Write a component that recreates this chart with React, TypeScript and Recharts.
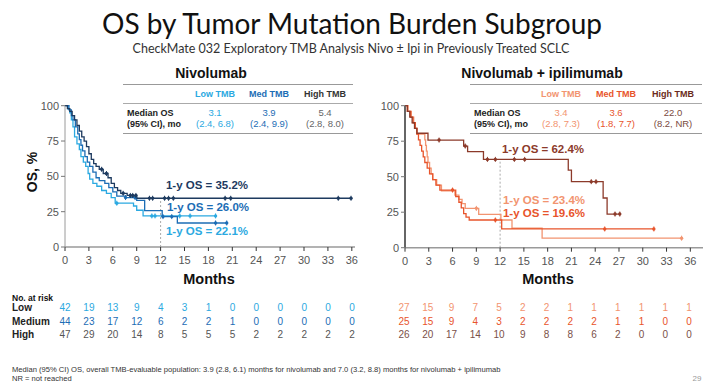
import React from "react"
import { ComposedChart, Line, Scatter, XAxis, YAxis, ReferenceLine } from "recharts"

const MONTH_TICKS = [0, 3, 6, 9, 12, 15, 18, 21, 24, 27, 30, 33, 36]
const PCT_TICKS = [0, 25, 50, 75, 100]

// Nivolumab arm: KM step points (months, % surviving)
const nivoLowMonths = [0, 0.4, 0.6, 0.8, 1.0, 1.2, 1.5, 1.8, 2.0, 2.3, 2.6, 2.9, 3.1, 3.5, 4.0, 4.6, 5.2, 5.8, 6.3, 8.6, 9.0, 9.8, 18.9]
const nivoLowOS = [100, 97.6, 95, 90, 85, 78, 73, 69, 64, 60, 57, 52, 48, 45, 43, 40, 38, 35, 31, 29, 26, 22, 22]
const nivoLowCensor = [6.5, 10.9, 11.3, 14.4, 15.7, 18.9]

const nivoMedMonths = [0, 0.5, 0.8, 1.0, 1.3, 1.6, 1.8, 2.0, 2.2, 2.5, 2.8, 3.1, 3.5, 3.9, 4.3, 5.0, 5.5, 6.0, 6.5, 7.6, 9.0, 10.0, 12.2, 14.1, 20.3]
const nivoMedOS = [100, 97, 93, 90, 85, 80, 76, 72, 68, 64, 60, 57, 53, 49, 47, 45, 42, 39, 36, 35, 33, 25.7, 21.5, 17, 17]
const nivoMedCensor = [7.6, 8.8, 12.3, 13.4, 18.9, 20.3]

const nivoHighMonths = [0, 0.3, 0.6, 0.9, 1.2, 1.5, 1.8, 2.1, 2.4, 2.7, 3.0, 3.3, 3.6, 3.9, 4.3, 4.8, 5.4, 5.8, 6.2, 6.6, 7.0, 7.8, 9.0, 35.9]
const nivoHighOS = [100, 98, 96, 93, 90, 86, 82, 78, 75, 71, 66, 62, 59, 57, 55, 52, 49, 45, 42, 40, 38, 36.5, 34.5, 34.5]
const nivoHighCensor = [4.6, 5.2, 7.3, 8.2, 8.5, 8.9, 10.6, 11.0, 12.5, 13.0, 13.6, 20.1, 20.8, 34.3, 35.9]

// Nivolumab + ipilimumab arm
const comboLowMonths = [0, 0.4, 0.8, 1.1, 1.3, 1.5, 2.5, 2.6, 2.7, 2.8, 2.9, 3.1, 3.3, 3.5, 4.0, 4.6, 6.3, 6.8, 7.2, 7.6, 9.3, 12.1, 13.5, 17.3, 34.9]
const comboLowOS = [100, 96, 92, 88, 84, 80, 76, 72, 68, 64, 60, 56, 52, 48, 44, 40, 37, 34, 31, 27.7, 23.4, 19.5, 13.7, 6.7, 6.7]
const comboLowCensor = [9.0, 34.9]

const comboMedMonths = [0, 0.3, 0.7, 1.0, 1.3, 1.5, 1.7, 1.9, 2.1, 2.3, 2.5, 2.8, 3.1, 3.5, 3.9, 4.4, 6.4, 6.8, 7.1, 7.4, 7.7, 8.1, 12.2, 31.4]
const comboMedOS = [100, 96, 92, 88, 84, 80, 76, 72, 68, 64, 60, 56, 52, 48, 44, 40.6, 36, 32, 28, 24, 21.5, 19.5, 13.2, 13.2]
const comboMedCensor = [6.0, 11.4, 25.2, 31.4]

const comboHighMonths = [0, 0.3, 0.6, 0.9, 1.2, 1.5, 2.9, 7.4, 7.9, 9.9, 20.6, 21.0, 25.0, 25.5, 27.1]
const comboHighOS = [100, 96, 92, 88, 84, 80.6, 75.8, 71.6, 67.6, 62.2, 54.7, 46.5, 35, 23.7, 23.7]
const comboHighCensor = [4.3, 7.6, 10.4, 11.4, 13.8, 15.1, 23.5, 24.1, 26.5, 27.1]

// numbers at risk, every 3 months
const RISK_LABELS = ["Low", "Medium", "High"]
const nivoRisk = [
  [42, 19, 13, 9, 4, 3, 1, 0, 0, 0, 0, 0, 0],
  [44, 23, 17, 12, 6, 2, 2, 1, 0, 0, 0, 0, 0],
  [47, 29, 20, 14, 8, 5, 5, 5, 2, 2, 2, 2, 2],
]
const comboRisk = [
  [27, 15, 9, 7, 5, 2, 2, 1, 1, 1, 1, 1, 1],
  [25, 15, 9, 4, 3, 2, 2, 2, 2, 1, 1, 0, 0],
  [26, 20, 17, 14, 10, 9, 8, 8, 6, 2, 0, 0, 0],
]

const TMB_HEADERS = ["Low TMB", "Med TMB", "High TMB"]
const nivoMedian = ["3.1", "3.9", "5.4"]
const nivoCI = ["(2.4, 6.8)", "(2.4, 9.9)", "(2.8, 8.0)"]
const comboMedian = ["3.4", "3.6", "22.0"]
const comboCI = ["(2.8, 7.3)", "(1.8, 7.7)", "(8.2, NR)"]

const BLUE_LOW = "#2ba9e1"
const BLUE_MED = "#1c6db5"
const BLUE_HIGH = "#1d3a5f"
const OR_LOW = "#f29470"
const OR_MED = "#e8542b"
const OR_HIGH = "#8c3a2a"

const ARIAL = "'Liberation Sans', Arial, sans-serif"
const TITLE_FONT = "Lato, 'Open Sans', sans-serif"

type Pt = { m: number; p: number }

const toCurve = (ms: number[], ps: number[]): Pt[] => ms.map((m, i) => ({ m, p: ps[i] }))

const survAt = (curve: Pt[], t: number) => {
  let v = curve[0].p
  for (const pt of curve) if (pt.m <= t) v = pt.p
  return v
}

const censorPts = (curve: Pt[], times: number[]) => times.map((t) => ({ m: t, p: survAt(curve, t) }))

const censorShape = (color: string) => (props: any) => {
  const { cx, cy } = props
  return (
    <g>
      <line x1={cx} y1={cy - 2.5} x2={cx} y2={cy + 2.5} stroke={color} strokeWidth={1} />
      <circle cx={cx} cy={cy} r={1.7} fill={color} />
    </g>
  )
}

type Series = { curve: Pt[]; censor: number[]; color: string }

function Txt({ x, y, size, color = "#222", weight = 400, anchor = "start", family = ARIAL, children }: any) {
  const tx = anchor === "middle" ? "-50%" : anchor === "end" ? "-100%" : "0"
  return (
    <div
      style={{
        position: "absolute",
        left: x,
        top: y,
        transform: `translate(${tx}, -50%)`,
        fontSize: size,
        color,
        fontWeight: weight,
        fontFamily: family,
        whiteSpace: "nowrap",
        lineHeight: 1,
      }}
    >
      {children}
    </div>
  )
}

function KMPanel({ left, width, margin, xMax, series, refTop, axisColor, axisWidth }: any) {
  return (
    <div style={{ position: "absolute", left, top: 60 }}>
      <ComposedChart width={width} height={230} margin={margin}>
        <XAxis
          type="number"
          dataKey="m"
          domain={[0, xMax]}
          ticks={MONTH_TICKS}
          allowDataOverflow
          height={30}
          tickSize={4}
          tickMargin={5}
          axisLine={{ stroke: "#9a9a9a", strokeWidth: 1.5 }}
          tickLine={{ stroke: "#333" }}
          tick={{ fill: "#555", fontSize: 11, fontFamily: ARIAL }}
        />
        <YAxis
          type="number"
          dataKey="p"
          domain={[0, 100]}
          ticks={PCT_TICKS}
          width={30}
          tickSize={4}
          axisLine={{ stroke: axisColor, strokeWidth: axisWidth }}
          tickLine={{ stroke: "#777" }}
          tick={{ fill: "#555", fontSize: 11, fontFamily: ARIAL }}
        />
        <ReferenceLine
          segment={[{ x: 12, y: 0 }, { x: 12, y: refTop }]}
          stroke="#aaa"
          strokeDasharray="2 2"
        />
        {series.map((s: Series, i: number) => (
          <Line
            key={"l" + i}
            data={s.curve}
            dataKey="p"
            type="stepAfter"
            stroke={s.color}
            strokeWidth={1.3}
            dot={false}
            isAnimationActive={false}
          />
        ))}
        {series.map((s: Series, i: number) => (
          <Scatter
            key={"c" + i}
            data={censorPts(s.curve, s.censor)}
            dataKey="p"
            fill={s.color}
            shape={censorShape(s.color)}
            isAnimationActive={false}
          />
        ))}
      </ComposedChart>
    </div>
  )
}

function MedianTable({ x0, x1, cols, colors, valueColors, medians, cis }: any) {
  return (
    <>
      <div style={{ position: "absolute", left: x0, top: 84, width: x1 - x0, height: 0, borderTop: "1.5px solid #999" }} />
      <div style={{ position: "absolute", left: x0, top: 102.5, width: x1 - x0, height: 0, borderTop: "1px solid #aaa" }} />
      <div style={{ position: "absolute", left: x0, top: 132.5, width: x1 - x0, height: 0, borderTop: "1.5px solid #999" }} />
      {TMB_HEADERS.map((h, i) => (
        <Txt key={h} x={cols[i]} y={94} size={9} weight={700} color={colors[i]} anchor="middle">
          {h}
        </Txt>
      ))}
      <Txt x={x0 + 4} y={113} size={9} weight={700}>Median OS</Txt>
      <Txt x={x0 + 4} y={124} size={9} weight={700}>(95% CI), mo</Txt>
      {medians.map((v: string, i: number) => (
        <Txt key={"m" + i} x={cols[i]} y={113} size={9.5} color={valueColors[i]} anchor="middle">
          {v}
        </Txt>
      ))}
      {cis.map((v: string, i: number) => (
        <Txt key={"c" + i} x={cols[i]} y={124} size={9.5} color={valueColors[i]} anchor="middle">
          {v}
        </Txt>
      ))}
    </>
  )
}

function RiskRows({ x0, step, rows, colors }: any) {
  const ys = [308, 321.5, 334.5]
  return (
    <>
      {rows.map((row: number[], r: number) =>
        row.map((v, i) => (
          <Txt key={r + "-" + i} x={x0 + i * step} y={ys[r]} size={10} color={colors[r]} anchor="middle">
            {v}
          </Txt>
        ))
      )}
    </>
  )
}

export default function App() {
  const nivoSeries: Series[] = [
    { curve: toCurve(nivoLowMonths, nivoLowOS), censor: nivoLowCensor, color: BLUE_LOW },
    { curve: toCurve(nivoMedMonths, nivoMedOS), censor: nivoMedCensor, color: BLUE_MED },
    { curve: toCurve(nivoHighMonths, nivoHighOS), censor: nivoHighCensor, color: BLUE_HIGH },
  ]
  const comboSeries: Series[] = [
    { curve: toCurve(comboLowMonths, comboLowOS), censor: comboLowCensor, color: OR_LOW },
    { curve: toCurve(comboMedMonths, comboMedOS), censor: comboMedCensor, color: OR_MED },
    { curve: toCurve(comboHighMonths, comboHighOS), censor: comboHighCensor, color: OR_HIGH },
  ]

  return (
    <div
      style={{
        position: "absolute",
        left: 0,
        top: 0,
        width: 710,
        height: 389,
        background: "#fff",
        overflow: "hidden",
        fontFamily: ARIAL,
      }}
    >
      <Txt x={352} y={23} size={28} color="#111" anchor="middle" family={TITLE_FONT}>
        OS by Tumor Mutation Burden Subgroup
      </Txt>
      <Txt x={351} y={49} size={12.5} color="#333" anchor="middle" family={TITLE_FONT}>
        CheckMate 032 Exploratory TMB Analysis Nivo ± Ipi in Previously Treated SCLC
      </Txt>

      <Txt x={211} y={73} size={14} weight={700} color="#111" anchor="middle">Nivolumab</Txt>
      <Txt x={542} y={73} size={14} weight={700} color="#111" anchor="middle">Nivolumab + ipilimumab</Txt>

      <MedianTable
        x0={123}
        x1={353}
        cols={[215, 269, 325]}
        colors={[BLUE_LOW, BLUE_MED, "#333"]}
        valueColors={[BLUE_LOW, BLUE_MED, "#666"]}
        medians={nivoMedian}
        cis={nivoCI}
      />
      <MedianTable
        x0={470}
        x1={702}
        cols={[561, 616, 673]}
        colors={[OR_LOW, OR_MED, "#6a2a20"]}
        valueColors={[OR_LOW, OR_MED, "#7a4a40"]}
        medians={comboMedian}
        cis={comboCI}
      />

      <KMPanel
        left={0}
        width={360}
        margin={{ top: 45.7, right: 5, bottom: 13, left: 35 }}
        xMax={36.4}
        series={nivoSeries}
        refTop={34}
        axisColor="#9a9a9a"
        axisWidth={1}
      />
      <KMPanel
        left={360}
        width={350}
        margin={{ top: 45.7, right: 7, bottom: 12.3, left: 15 }}
        xMax={37.6}
        series={comboSeries}
        refTop={62}
        axisColor="#666"
        axisWidth={2}
      />

      <div
        style={{
          position: "absolute",
          left: 32,
          top: 172,
          transform: "translate(-50%, -50%) rotate(-90deg)",
          fontSize: 14,
          fontWeight: 700,
          color: "#111",
          whiteSpace: "nowrap",
        }}
      >
        OS, %
      </div>
      <Txt x={209} y={279} size={14.5} weight={700} color="#111" anchor="middle">Months</Txt>
      <Txt x={548} y={279} size={14.5} weight={700} color="#111" anchor="middle">Months</Txt>

      <Txt x={207} y={186} size={11.5} weight={700} color={BLUE_HIGH} anchor="middle">1-y OS = 35.2%</Txt>
      <Txt x={208} y={207.5} size={11.5} weight={700} color={BLUE_MED} anchor="middle">1-y OS = 26.0%</Txt>
      <Txt x={207} y={232} size={11.5} weight={700} color={BLUE_LOW} anchor="middle">1-y OS = 22.1%</Txt>

      <Txt x={543} y={149.5} size={11.5} weight={700} color={OR_HIGH} anchor="middle">1-y OS = 62.4%</Txt>
      <Txt x={544} y={200.5} size={11.5} weight={700} color={OR_LOW} anchor="middle">1-y OS = 23.4%</Txt>
      <Txt x={544} y={213.5} size={11.5} weight={700} color={OR_MED} anchor="middle">1-y OS = 19.6%</Txt>

      <Txt x={12} y={298} size={8.5} weight={700} color="#111">No. at risk</Txt>
      {RISK_LABELS.map((l, i) => (
        <Txt key={l} x={12} y={[308, 321.5, 334.5][i]} size={10} weight={700} color="#222">
          {l}
        </Txt>
      ))}
      <RiskRows x0={65} step={23.92} rows={nivoRisk} colors={[BLUE_LOW, BLUE_MED, "#555"]} />
      <RiskRows x0={404} step={23.76} rows={comboRisk} colors={[OR_LOW, OR_MED, "#7a5048"]} />

      <Txt x={12} y={369.5} size={7.6} color="#333">
        Median (95% CI) OS, overall TMB-evaluable population: 3.9 (2.8, 6.1) months for nivolumab and 7.0 (3.2, 8.8) months for nivolumab + ipilimumab
      </Txt>
      <Txt x={12} y={379} size={7.6} color="#333">NR = not reached</Txt>
      <Txt x={697} y={379} size={8} color="#999" anchor="middle">29</Txt>
    </div>
  )
}
